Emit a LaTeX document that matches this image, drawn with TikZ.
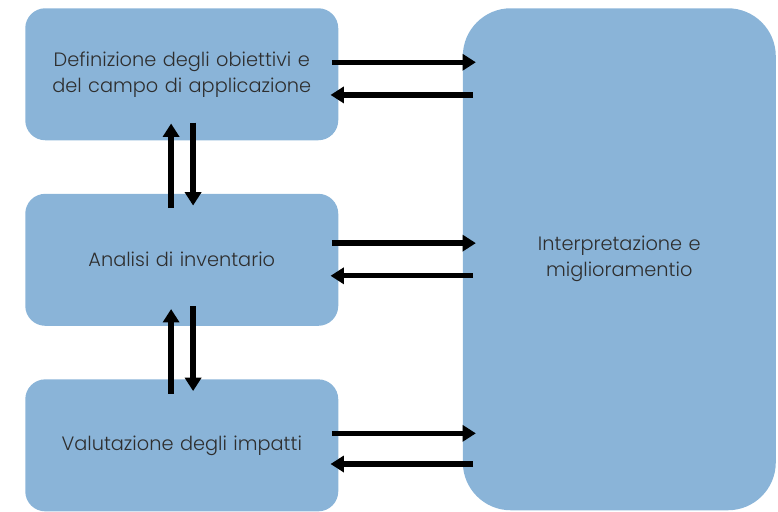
\documentclass[tikz,border=0pt]{standalone}
\usepackage{fontspec}
\setmainfont{Poppins}[UprightFont=* Light]
\usetikzlibrary{arrows.meta,positioning}
\definecolor{lcaBlue}{HTML}{8AB4D8}
\definecolor{lcaText}{HTML}{2E2E2E}

\begin{document}
\begin{tikzpicture}[
    every node/.style={font=\fontsize{14.5}{19.5}\selectfont, text=lcaText},
    lbox/.style={fill=lcaBlue, rounded corners=15pt,
                 minimum width=234.75pt, minimum height=99pt,
                 text width=225pt, align=center},
    bigbox/.style={fill=lcaBlue, rounded corners=36pt,
                   minimum width=234.75pt, minimum height=376.5pt,
                   text width=225pt, align=center},
    arr/.style={-{Triangle[length=10pt,width=12pt]}, black, line width=4pt},
  ]
  \useasboundingbox (0,0) rectangle (583.5pt,-383.25pt);
  \node[lbox, anchor=north west] (def) at (18.75pt,-6pt)
    {Definizione degli obiettivi e\\del campo di applicazione};
  \node[lbox, below=39.75pt of def] (inv) {Analisi di inventario};
  \node[lbox, below=39.75pt of inv] (val) {Valutazione degli impatti};
  \node[bigbox, right=93pt of def.north east, anchor=north west] (interp)
    {Interpretazione e\\miglioramentio};
  % frecce orizzontali
  \draw[arr] ([xshift=-5pt,yshift=9pt]def.east) -- ([xshift=10pt,yshift=9pt]def.east -| interp.west);
  \draw[arr] ([xshift=8pt,yshift=-15.5pt]def.east -| interp.west) -- ([xshift=-6pt,yshift=-15.5pt]def.east);
  \draw[arr] ([xshift=-5pt,yshift=12.5pt]inv.east) -- ([xshift=10pt,yshift=12.5pt]inv.east -| interp.west);
  \draw[arr] ([xshift=8pt,yshift=-12pt]inv.east -| interp.west) -- ([xshift=-6pt,yshift=-12pt]inv.east);
  \draw[arr] ([xshift=-5pt,yshift=9pt]val.east) -- ([xshift=10pt,yshift=9pt]val.east -| interp.west);
  \draw[arr] ([xshift=8pt,yshift=-14pt]val.east -| interp.west) -- ([xshift=-6pt,yshift=-14pt]val.east);
  % frecce verticali
  \draw[arr] ([xshift=-8pt,yshift=-11pt]inv.north) -- ([xshift=-8pt,yshift=12.75pt]def.south);
  \draw[arr] ([xshift=8.5pt,yshift=13.5pt]def.south) -- ([xshift=8.5pt,yshift=-9pt]inv.north);
  \draw[arr] ([xshift=-8pt,yshift=-11pt]val.north) -- ([xshift=-8pt,yshift=12.75pt]inv.south);
  \draw[arr] ([xshift=8.5pt,yshift=15pt]inv.south) -- ([xshift=8.5pt,yshift=-9pt]val.north);
\end{tikzpicture}
\end{document}
